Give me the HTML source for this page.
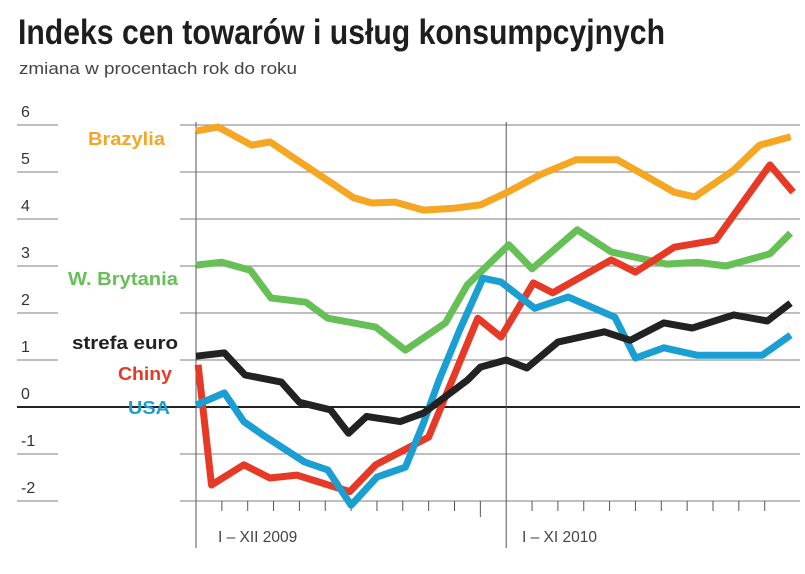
<!DOCTYPE html>
<html><head><meta charset="utf-8"><style>
body{margin:0;background:#fff;}
svg{display:block;}
</style></head><body>
<svg id="c" width="805" height="574" viewBox="0 0 805 574" xmlns="http://www.w3.org/2000/svg">
<text x="18" y="44" textLength="647" lengthAdjust="spacingAndGlyphs" font-family="'Liberation Sans Narrow','Liberation Sans',sans-serif" font-weight="bold" font-size="35" fill="#1e1e1e">Indeks cen towarów i usług konsumpcyjnych</text>
<text x="19" y="74" textLength="278" lengthAdjust="spacingAndGlyphs" font-family="'Liberation Sans',sans-serif" font-size="17" fill="#444">zmiana w procentach rok do roku</text>
<g id="grid"></g>
<g id="series"></g>
<g id="labels"></g>
</svg>
<script>
const yTicks=[6,5,4,3,2,1,0,-1,-2];
const seriesNames=["Brazylia","W. Brytania","strefa euro","Chiny","USA"];
const brazylM=[0,0.85,2.15,2.86,6.1,6.8,7.7,8.8,10,11,12.05,13.3,14.7,16.3,18.5,19.3,20.8,21.8,23];
const brazylV=[5.87,5.96,5.57,5.64,4.45,4.34,4.36,4.19,4.23,4.3,4.57,4.94,5.26,5.26,4.57,4.47,5.04,5.57,5.75];
const ukM=[0,1,2.1,2.9,4.25,5.1,6.95,8.1,9.65,10.5,12.1,13,14.75,16.06,18.2,19.4,20.5,22.2,23];
const ukV=[3.02,3.08,2.91,2.32,2.23,1.89,1.7,1.21,1.79,2.6,3.45,2.94,3.77,3.3,3.04,3.08,3.0,3.26,3.7];
const euroM=[0,1.1,1.9,3.3,4,5.2,5.9,6.6,7.9,8.8,10.5,11,12,12.8,14,15.8,16.8,18.1,19.2,20.8,22.1,23];
const euroV=[1.08,1.15,0.68,0.53,0.1,-0.06,-0.56,-0.2,-0.31,-0.13,0.57,0.85,1.0,0.83,1.38,1.6,1.42,1.79,1.68,1.96,1.83,2.21];
const chinyM=[0.08,0.6,1.85,2.86,3.9,5.95,6.95,9.0,10.9,11.8,13.05,13.8,16.06,17,18.5,20.1,22.2,23.1];
const chinyV=[0.9,-1.66,-1.23,-1.51,-1.45,-1.8,-1.23,-0.64,1.89,1.49,2.64,2.43,3.13,2.87,3.4,3.55,5.15,4.57];
const usaM=[0,1.1,1.85,2.6,4.2,5.1,6.0,7.0,8.1,8.8,9.4,10.2,11.1,11.8,13.1,14.4,16.2,17,18.1,19.4,21.9,23];
const usaV=[0.04,0.3,-0.31,-0.6,-1.17,-1.34,-2.09,-1.49,-1.28,-0.34,0.57,1.64,2.74,2.66,2.1,2.34,1.91,1.04,1.26,1.1,1.1,1.53];
const xLabels=["I – XII 2009","I – XI 2010"];

const NS="http://www.w3.org/2000/svg";
const X=m=>196+m*25.85;
const Y=v=>407-v*47;
function mk(tag,attrs,parent){const e=document.createElementNS(NS,tag);for(const k in attrs)e.setAttribute(k,attrs[k]);parent.appendChild(e);return e;}
const grid=document.getElementById('grid'),ser=document.getElementById('series'),lab=document.getElementById('labels');
yTicks.forEach(t=>{
  const y=Y(t);
  const z=t===0;
  const a=mk('line',{x1:17,x2:58,y1:y,y2:y,stroke:z?'#222':'#999','stroke-width':z?2:1.3},grid);
  
  
  const b=mk('line',{x1:z?17:180,x2:800,y1:y,y2:y,stroke:z?'#222':'#999','stroke-width':z?2:1.3},grid);
  
  
  const tx=mk('text',{x:21,y:y-8,'font-family':"'Liberation Sans',sans-serif",'font-size':16,fill:'#333'},grid);
  tx.textContent=t;
  
  
});
[0,12].forEach(m=>{
  const l=mk('line',{x1:X(m),x2:X(m),y1:122,y2:548,stroke:'#555','stroke-width':1},grid);
  
  
});
for(let m=1;m<23;m++){
  if(m===12)continue;
  const l=mk('line',{x1:X(m),x2:X(m),y1:Y(-2),y2:m===11?517:511,stroke:'#555','stroke-width':1},grid);
  
  
}
[[xLabels[0],218],[xLabels[1],522]].forEach(([s,x])=>{
  const t=mk('text',{x:x,y:542,'font-family':"'Liberation Sans',sans-serif",'font-size':15.5,fill:'#444'},grid);
  t.textContent=s;
  
  
});
const defs=[[brazylM,brazylV,'#f5a623'],[ukM,ukV,'#66c056'],[euroM,euroV,'#222'],[chinyM,chinyV,'#e63a26'],[usaM,usaV,'#1b9fd2']];
const order=[0,1,3,4,2];
order.forEach(i=>{
  const [ms,vs,c]=defs[i];
  const d=ms.map((m,j)=>(j?'L':'M')+X(m).toFixed(1)+','+Y(vs[j]).toFixed(1)).join('');
  const p=mk('path',{d:d,fill:'none',stroke:c,'stroke-width':7,'stroke-linejoin':'round'},ser);
  
  
});
const lp=[[88,145,77],[68,285,110],[72,349,106],[118,380,54],[128,414,42]];
defs.forEach(([,,c],i)=>{
  const t=mk('text',{x:lp[i][0],y:lp[i][1],textLength:lp[i][2],lengthAdjust:'spacingAndGlyphs','font-family':"'Liberation Sans',sans-serif",'font-weight':'bold','font-size':18,fill:c},lab);
  t.textContent=seriesNames[i];
  
  
});
</script>
</body></html>
